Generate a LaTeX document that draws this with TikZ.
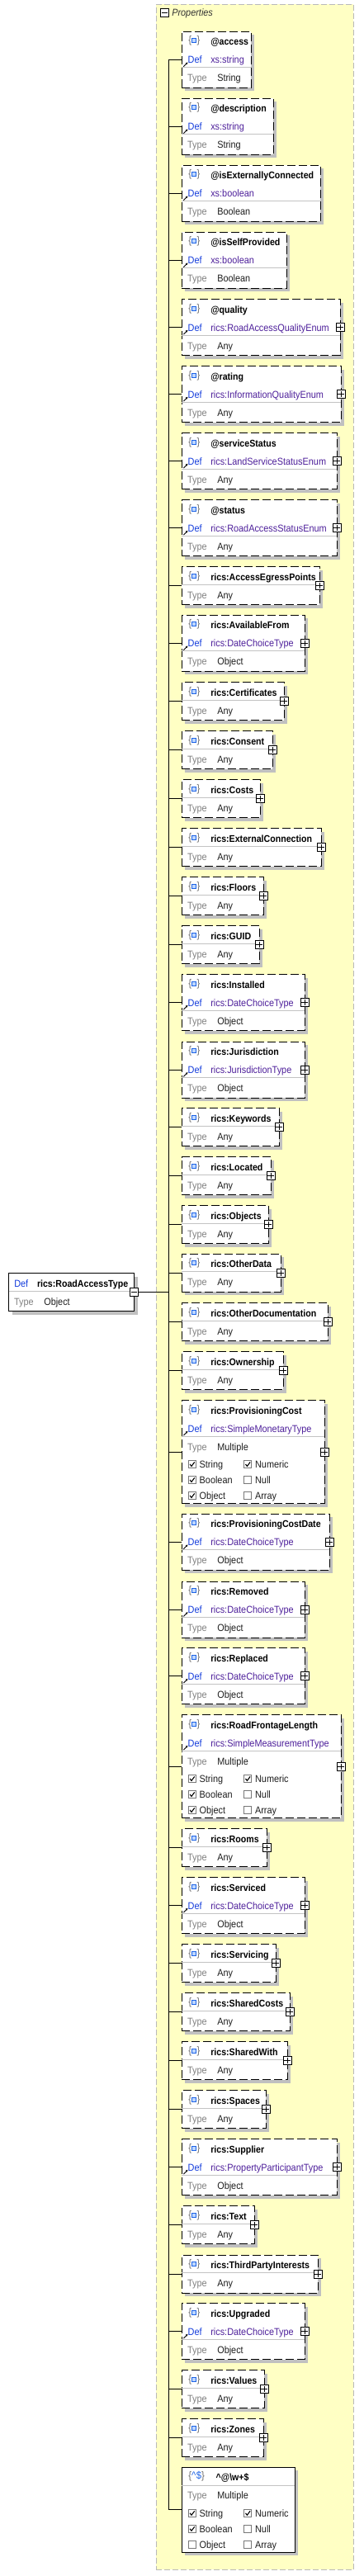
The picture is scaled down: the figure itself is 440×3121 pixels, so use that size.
\documentclass[tikz,border=0pt]{standalone}
\usepackage{fontspec}
\setmainfont{Liberation Sans}[FakeStretch=0.9]
\usetikzlibrary{shadows,calc,arrows.meta}

\definecolor{propfill}{RGB}{255,255,196}
\definecolor{propborder}{RGB}{185,185,185}
\definecolor{shadowgray}{RGB}{192,192,192}
\definecolor{sepgray}{RGB}{195,195,195}
\definecolor{typegray}{RGB}{128,128,128}
\definecolor{defblue}{RGB}{20,60,220}
\definecolor{defpurple}{RGB}{78,32,155}
\definecolor{bracegray}{RGB}{110,110,110}
\definecolor{iconblue}{RGB}{30,100,230}
\definecolor{iconfill}{RGB}{190,215,255}
\definecolor{valblack}{RGB}{30,30,30}
\definecolor{chkgray}{RGB}{120,120,120}
\definecolor{headgray}{RGB}{50,50,50}

\tikzset{
  every node/.style={inner sep=0pt,outer sep=0pt},
  txt/.style={anchor=base west,font=\fontsize{12.1}{13}\selectfont},
  nmtxt/.style={anchor=base west,font=\fontsize{11.8}{13}\selectfont\bfseries,text=black},
  deftxt/.style={txt,text=defblue},
  dvtxt/.style={txt,text=defpurple},
  typetxt/.style={txt,text=typegray},
  valtxt/.style={txt,text=valblack},
  bracetxt/.style={anchor=base west,font=\fontsize{12.5}{13}\selectfont,text=bracegray},
  elbox/.style={draw=black,line width=1pt,fill=white,anchor=north west,
    drop shadow={shadow xshift=4pt,shadow yshift=-4pt,fill=shadowgray,opacity=1}},
  optbox/.style={elbox,dash pattern=on 10pt off 4pt},
  conn/.style={draw=black,line width=1pt},
  sepline/.style={draw=sepgray,line width=1pt},
  toggle/.style={draw=black,line width=0.8pt,fill=white,minimum width=10pt,minimum height=10pt},
  chkbox/.style={draw=chkgray,line width=0.8pt,fill=white,minimum width=9pt,minimum height=9pt},
  chkmark/.style={draw=black,line width=1.1pt},
  defarrow/.style={draw=black,line width=0.9pt,-{Stealth[length=2.6pt,width=2.8pt]}},
  iconsq/.style={draw=iconblue,line width=0.9pt,fill=iconfill},
}

\newcommand\ElIcon[2]{%
  \node[bracetxt] (#1-bl) at (228.3,{#2+14.3}) {\{};
  \node[bracetxt] (#1-br) at (238.6,{#2+14.3}) {\}};
  \draw[iconsq] (232.7,{#2+8.3}) rectangle (237.7,{#2+13.3});
}
\newcommand\DefRow[3]{%
  \draw[defarrow] (222.4,{#2+42.4}) -- (227.4,{#2+37.2});
  \node[deftxt] (#1-d) at (227.7,{#2+38.5}) {Def};
  \node[dvtxt] (#1-dv) at (255.3,{#2+38.5}) {#3};
}
\newcommand\TypeRow[4]{%
  \node[typetxt] (#1-t) at (227,{#2}) {Type};
  \node[valtxt] (#1-tv) at (#4,{#2}) {#3};
}
\newcommand\PlusBox[1]{%
  \node[toggle] (#1-x) at (#1.east) {};
  \draw[line width=0.9pt] ($(#1-x.center)+(-3.6,0)$) -- ($(#1-x.center)+(3.6,0)$)
    ($(#1-x.center)+(0,-3.6)$) -- ($(#1-x.center)+(0,3.6)$);
}
\newcommand\Chk[5]{%
  \node[chkbox] (#1) at ({#2+4.5},{#3-4}) {};
  \ifnum#4=1 \draw[chkmark] ($(#1.center)+(-2.7,-0.2)$) -- ($(#1.center)+(-0.8,2.2)$) -- ($(#1.center)+(2.9,-2.8)$);\fi
  \node[valtxt] (#1-l) at ({#2+13.4},{#3}) {#5};
}
\newcommand\ChkRows[8]{%
  \pgfmathsetmacro\rowA{#2}\pgfmathsetmacro\rowB{#2+19}\pgfmathsetmacro\rowC{#2+38}%
  \Chk{#1-c1}{228.3}{\rowA}{#3}{String}
  \Chk{#1-c2}{295.7}{\rowA}{#4}{Numeric}
  \Chk{#1-c3}{228.3}{\rowB}{#5}{Boolean}
  \Chk{#1-c4}{295.7}{\rowB}{#6}{Null}
  \Chk{#1-c5}{228.3}{\rowC}{#7}{Object}
  \Chk{#1-c6}{295.7}{\rowC}{#8}{Array}
}
% 3-row box with Def
\newcommand\BoxA[7]{%
  \pgfmathsetmacro\bw{#3-220.3}%
  \node[optbox,minimum width=\bw pt,minimum height=68pt] (#1) at (220.3,#2) {};
  \draw[conn] (#1.west) -- (trunktop |- #1.west);
  \ElIcon{#1}{#2}
  \node[nmtxt] (#1-n) at (255.3,{#2+16.5}) {#4};
  \DefRow{#1}{#2}{#5}
  \draw[sepline] (220.3,{#2+43.5}) -- (#3,{#2+43.5});
  \TypeRow{#1}{#2+60.5}{#6}{263.3}
  \ifnum#7=1 \PlusBox{#1}\fi
}
% 2-row box
\newcommand\BoxB[4]{%
  \pgfmathsetmacro\bw{#3-220.3}%
  \node[optbox,minimum width=\bw pt,minimum height=46pt] (#1) at (220.3,#2) {};
  \draw[conn] (#1.west) -- (trunktop |- #1.west);
  \ElIcon{#1}{#2}
  \node[nmtxt] (#1-n) at (255.3,{#2+16.5}) {#4};
  \draw[sepline] (220.3,{#2+21.5}) -- (#3,{#2+21.5});
  \TypeRow{#1}{#2+38.5}{Any}{263.3}
  \PlusBox{#1}
}
% 6-row box with Def and check boxes
\newcommand\BoxC[5]{%
  \pgfmathsetmacro\bw{#3-220.3}%
  \node[optbox,minimum width=\bw pt,minimum height=125pt] (#1) at (220.3,#2) {};
  \draw[conn] (#1.west) -- (trunktop |- #1.west);
  \ElIcon{#1}{#2}
  \node[nmtxt] (#1-n) at (255.3,{#2+16.5}) {#4};
  \DefRow{#1}{#2}{#5}
  \draw[sepline] (220.3,{#2+43.5}) -- (#3,{#2+43.5});
  \TypeRow{#1}{#2+60.5}{Multiple}{263.3}
  \PlusBox{#1}
}

\begin{document}
\begin{tikzpicture}[x=1pt,y=-1pt]
\useasboundingbox (0,0) rectangle (440,3121);

% container
\node[draw=propborder,dash pattern=on 7pt off 3pt,line width=1pt,fill=propfill,
  anchor=north west,minimum width=239.3pt,minimum height=3108pt] (props) at (189,5.3) {};
\node[toggle] (props-x) at (199.3,15.2) {};
\draw[line width=0.9pt] ($(props-x.center)+(-3.6,0)$) -- ($(props-x.center)+(3.6,0)$);
\node[anchor=base west,font=\fontsize{12.1}{13}\selectfont\itshape,text=headgray] (props-t) at (208.3,19.8) {Properties};

\coordinate (trunktop) at (204,72.3);

\BoxA{b1}{38.3}{304.3}{@access}{xs:string}{String}{0}
\BoxA{b2}{119.3}{331}{@description}{xs:string}{String}{0}
\BoxA{b3}{200.3}{388}{@isExternallyConnected}{xs:boolean}{Boolean}{0}
\BoxA{b4}{281.3}{347}{@isSelfProvided}{xs:boolean}{Boolean}{0}
\BoxA{b5}{362.7}{412}{@quality}{rics:RoadAccessQualityEnum}{Any}{1}
\BoxA{b6}{443.7}{413}{@rating}{rics:InformationQualityEnum}{Any}{1}
\BoxA{b7}{524.7}{408}{@serviceStatus}{rics:LandServiceStatusEnum}{Any}{1}
\BoxA{b8}{605.7}{408}{@status}{rics:RoadAccessStatusEnum}{Any}{1}
\BoxB{b9}{686.7}{387}{rics:AccessEgressPoints}
\BoxA{b10}{745.3}{369}{rics:AvailableFrom}{rics:DateChoiceType}{Object}{1}
\BoxB{b11}{826.7}{344}{rics:Certificates}
\BoxB{b12}{885.7}{330}{rics:Consent}
\BoxB{b13}{944.7}{315}{rics:Costs}
\BoxB{b14}{1003.7}{389}{rics:ExternalConnection}
\BoxB{b15}{1062.7}{319}{rics:Floors}
\BoxB{b16}{1121.7}{314}{rics:GUID}
\BoxA{b17}{1180.7}{369}{rics:Installed}{rics:DateChoiceType}{Object}{1}
\BoxA{b18}{1262}{369}{rics:Jurisdiction}{rics:JurisdictionType}{Object}{1}
\BoxB{b19}{1342.7}{338}{rics:Keywords}
\BoxB{b20}{1401.7}{328}{rics:Located}
\BoxB{b21}{1460.7}{325}{rics:Objects}
\BoxB{b22}{1519.3}{340}{rics:OtherData}
\BoxB{b23}{1578.7}{397}{rics:OtherDocumentation}
\BoxB{b24}{1637.7}{343}{rics:Ownership}
\BoxC{b25}{1696.7}{393}{rics:ProvisioningCost}{rics:SimpleMonetaryType}
\ChkRows{b25}{1696.7+81.5}{1}{1}{1}{0}{1}{0}
\BoxA{b26}{1834.3}{399}{rics:ProvisioningCostDate}{rics:DateChoiceType}{Object}{1}
\BoxA{b27}{1916}{369}{rics:Removed}{rics:DateChoiceType}{Object}{1}
\BoxA{b28}{1996.7}{369}{rics:Replaced}{rics:DateChoiceType}{Object}{1}
\BoxC{b29}{2077.7}{413}{rics:RoadFrontageLength}{rics:SimpleMeasurementType}
\ChkRows{b29}{2077.7+81.5}{1}{1}{1}{0}{1}{0}
\BoxB{b30}{2215.7}{323}{rics:Rooms}
\BoxA{b31}{2274.7}{369}{rics:Serviced}{rics:DateChoiceType}{Object}{1}
\BoxB{b32}{2355.7}{334}{rics:Servicing}
\BoxB{b33}{2414.7}{351}{rics:SharedCosts}
\BoxB{b34}{2473.7}{348}{rics:SharedWith}
\BoxB{b35}{2532.7}{322}{rics:Spaces}
\BoxA{b36}{2591.7}{408}{rics:Supplier}{rics:PropertyParticipantType}{Object}{1}
\BoxB{b37}{2672.7}{308}{rics:Text}
\BoxB{b38}{2732}{385}{rics:ThirdPartyInterests}
\BoxA{b39}{2790.7}{369}{rics:Upgraded}{rics:DateChoiceType}{Object}{1}
\BoxB{b40}{2871.7}{320}{rics:Values}
\BoxB{b41}{2930.7}{319}{rics:Zones}

% pattern property box
\node[elbox,minimum width=136.7pt,minimum height=103pt] (b42) at (220.3,2989.3) {};
\draw[conn] (b42.west) -- (trunktop |- b42.west);
\node[anchor=base west,font=\fontsize{12.5}{13}\selectfont] (b42-ic) at (228.3,3003.6)
  {\textcolor{bracegray}{\{}\textcolor{iconblue}{\textasciicircum\kern0.6pt\$}\textcolor{bracegray}{\}}};
\node[nmtxt] (b42-n) at (261.7,3005.8) {\textasciicircum @\textbackslash w+\$};
\draw[sepline] (220.3,3011) -- (357,3011);
\TypeRow{b42}{3027.8}{Multiple}{263.3}
\ChkRows{b42}{2989.3+59.7}{1}{1}{1}{0}{0}{0}

% trunk
\draw[conn] (trunktop |- b1.west) -- (trunktop |- b42.west);

% root element
\node[elbox,minimum width=152pt,minimum height=46pt] (root) at (10.7,1542.7) {};
\node[deftxt] (root-d) at (17.3,1559) {Def};
\node[nmtxt] (root-n) at (45,1559) {rics:RoadAccessType};
\draw[sepline] (10.7,1564.2) -- (162.7,1564.2);
\node[typetxt] (root-t) at (17,1581.2) {Type};
\node[valtxt] (root-tv) at (53.3,1581.2) {Object};
\node[toggle] (root-x) at (root.east) {};
\draw[line width=0.9pt] ($(root-x.center)+(-3.6,0)$) -- ($(root-x.center)+(3.6,0)$);
\draw[conn] (root-x.east) -- (trunktop |- root-x.east);
\end{tikzpicture}
\end{document}
